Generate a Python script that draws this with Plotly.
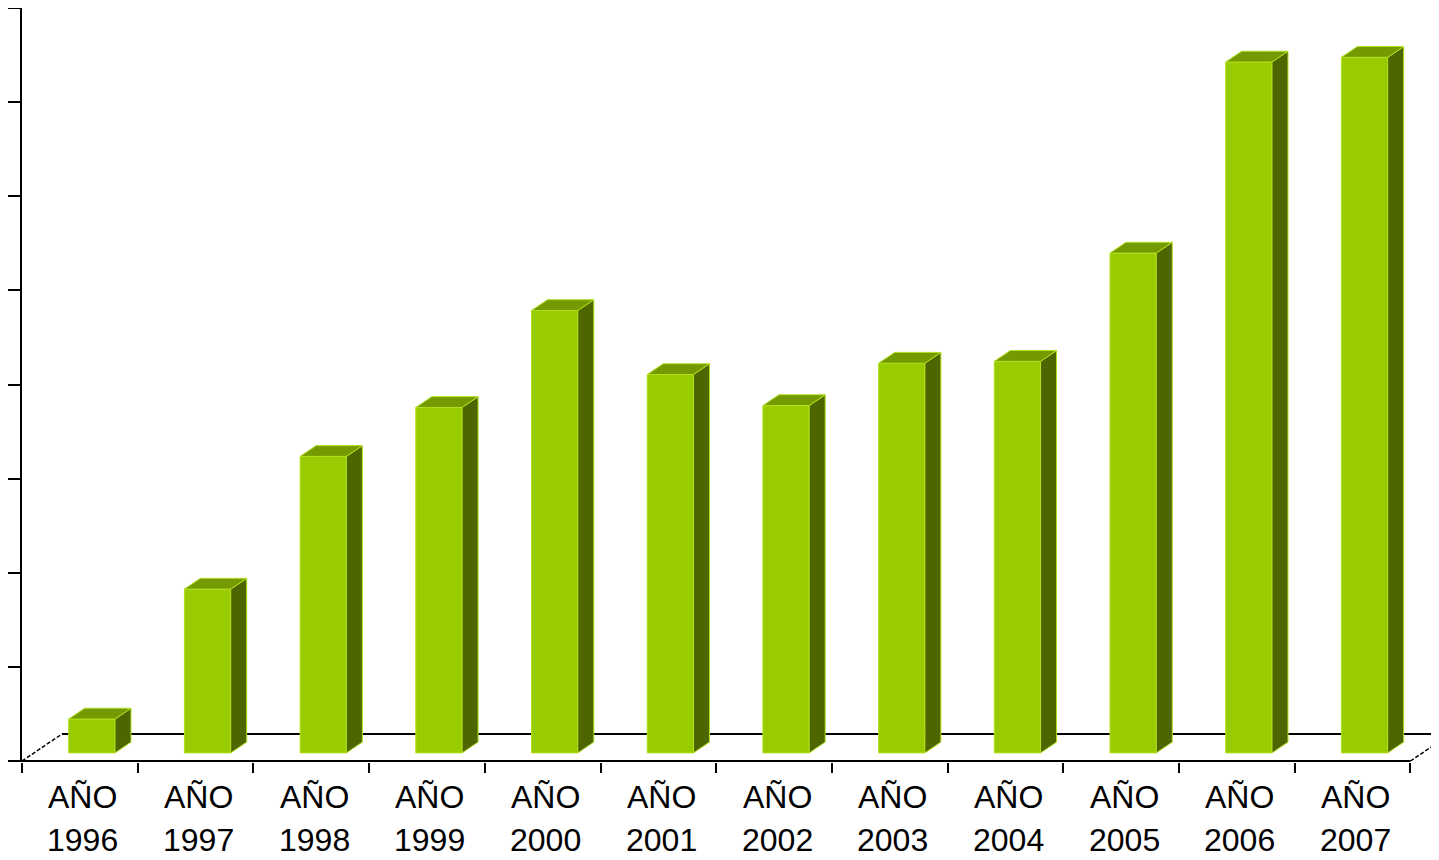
import plotly.graph_objects as go

# ---- data (in y-tick units) ----
years = ["1996", "1997", "1998", "1999", "2000", "2001",
         "2002", "2003", "2004", "2005", "2006", "2007"]
label_prefix = "AÑO"
values = [0.36, 1.74, 3.15, 3.67, 4.70, 4.02, 3.69, 4.14, 4.16, 5.31, 7.34, 7.39]
y_ticks = [0, 1, 2, 3, 4, 5, 6, 7, 8]

# ---- geometry / style ----
# the page body adds an 8px margin, so the figure is sized 8px smaller
W, H = 1431, 852
ML, MR, MT, MB = 14, 0, 0, 98
px_per_x = 115.7
px_per_y = (761 - 8) / 8.0
floor_dx = 40 / px_per_x
floor_dy = 27 / px_per_y
bar_front, bar_back = 0.3, 0.7
bar_w = 0.4

FRONT = "#99CC00"
SIDE = "#4D6600"
TOP = "#739A00"
EDGE = "#B2E01E"

n = len(years)
x_max = (W - ML - MR) / px_per_x
y_min = -(762 - 761) / px_per_y

fig = go.Figure()

# floor back edge and dashed side edges
fig.add_trace(go.Scatter(x=[floor_dx, n + floor_dx], y=[floor_dy, floor_dy], mode="lines",
                         line=dict(color="black", width=1.8), hoverinfo="skip"))
for x0 in (0, n):
    fig.add_trace(go.Scatter(x=[x0, x0 + floor_dx], y=[0, floor_dy], mode="lines",
                             line=dict(color="black", width=1.5, dash="4px,2px"), hoverinfo="skip"))
# x axis baseline
fig.add_trace(go.Scatter(x=[0, n], y=[0, 0], mode="lines",
                         line=dict(color="black", width=2.2), hoverinfo="skip"))

ox, oy = bar_front * floor_dx, bar_front * floor_dy
ddx, ddy = (bar_back - bar_front) * floor_dx, (bar_back - bar_front) * floor_dy
for i, v in enumerate(values):
    cx = i + 0.5 + ox
    xl, xr = cx - bar_w / 2, cx + bar_w / 2
    y0, y1 = oy, oy + v
    faces = [
        ([xl, xr, xr, xl, xl], [y0, y0, y1, y1, y0], FRONT),
        ([xr, xr + ddx, xr + ddx, xr, xr], [y0, y0 + ddy, y1 + ddy, y1, y0], SIDE),
        ([xl, xr, xr + ddx, xl + ddx, xl], [y1, y1, y1 + ddy, y1 + ddy, y1], TOP),
    ]
    for fx, fy, col in faces:
        fig.add_trace(go.Scatter(x=fx, y=fy, mode="lines", fill="toself", fillcolor=col,
                                 line=dict(color=EDGE, width=1), hoverinfo="skip"))

annotations = []
for i, yr in enumerate(years):
    for txt, py in ((label_prefix, 797), (yr, 840)):
        annotations.append(dict(x=i + 0.5, xref="x", xshift=3,
                                y=(762 - py) / (762 - 8), yref="paper",
                                text=txt, showarrow=False,
                                xanchor="center", yanchor="middle",
                                font=dict(family="Liberation Sans, Arial, sans-serif",
                                          size=32, color="black")))

fig.update_layout(
    width=W, height=H,
    margin=dict(l=ML, r=MR, t=MT, b=MB),
    paper_bgcolor="white", plot_bgcolor="white",
    showlegend=False,
    annotations=annotations,
    xaxis=dict(range=[0, x_max], tickmode="array", tickvals=list(range(n + 1)),
               showticklabels=False, ticks="outside", ticklen=10, tickwidth=2,
               tickcolor="black", showgrid=False, zeroline=False, showline=False,
               fixedrange=True),
    yaxis=dict(range=[y_min, 8], tickmode="array", tickvals=y_ticks,
               showticklabels=False, ticks="outside", ticklen=12, tickwidth=2,
               tickcolor="black", showgrid=False, zeroline=False, showline=True,
               linecolor="black", linewidth=2, fixedrange=True),
)

fig.write_html("out.html")
